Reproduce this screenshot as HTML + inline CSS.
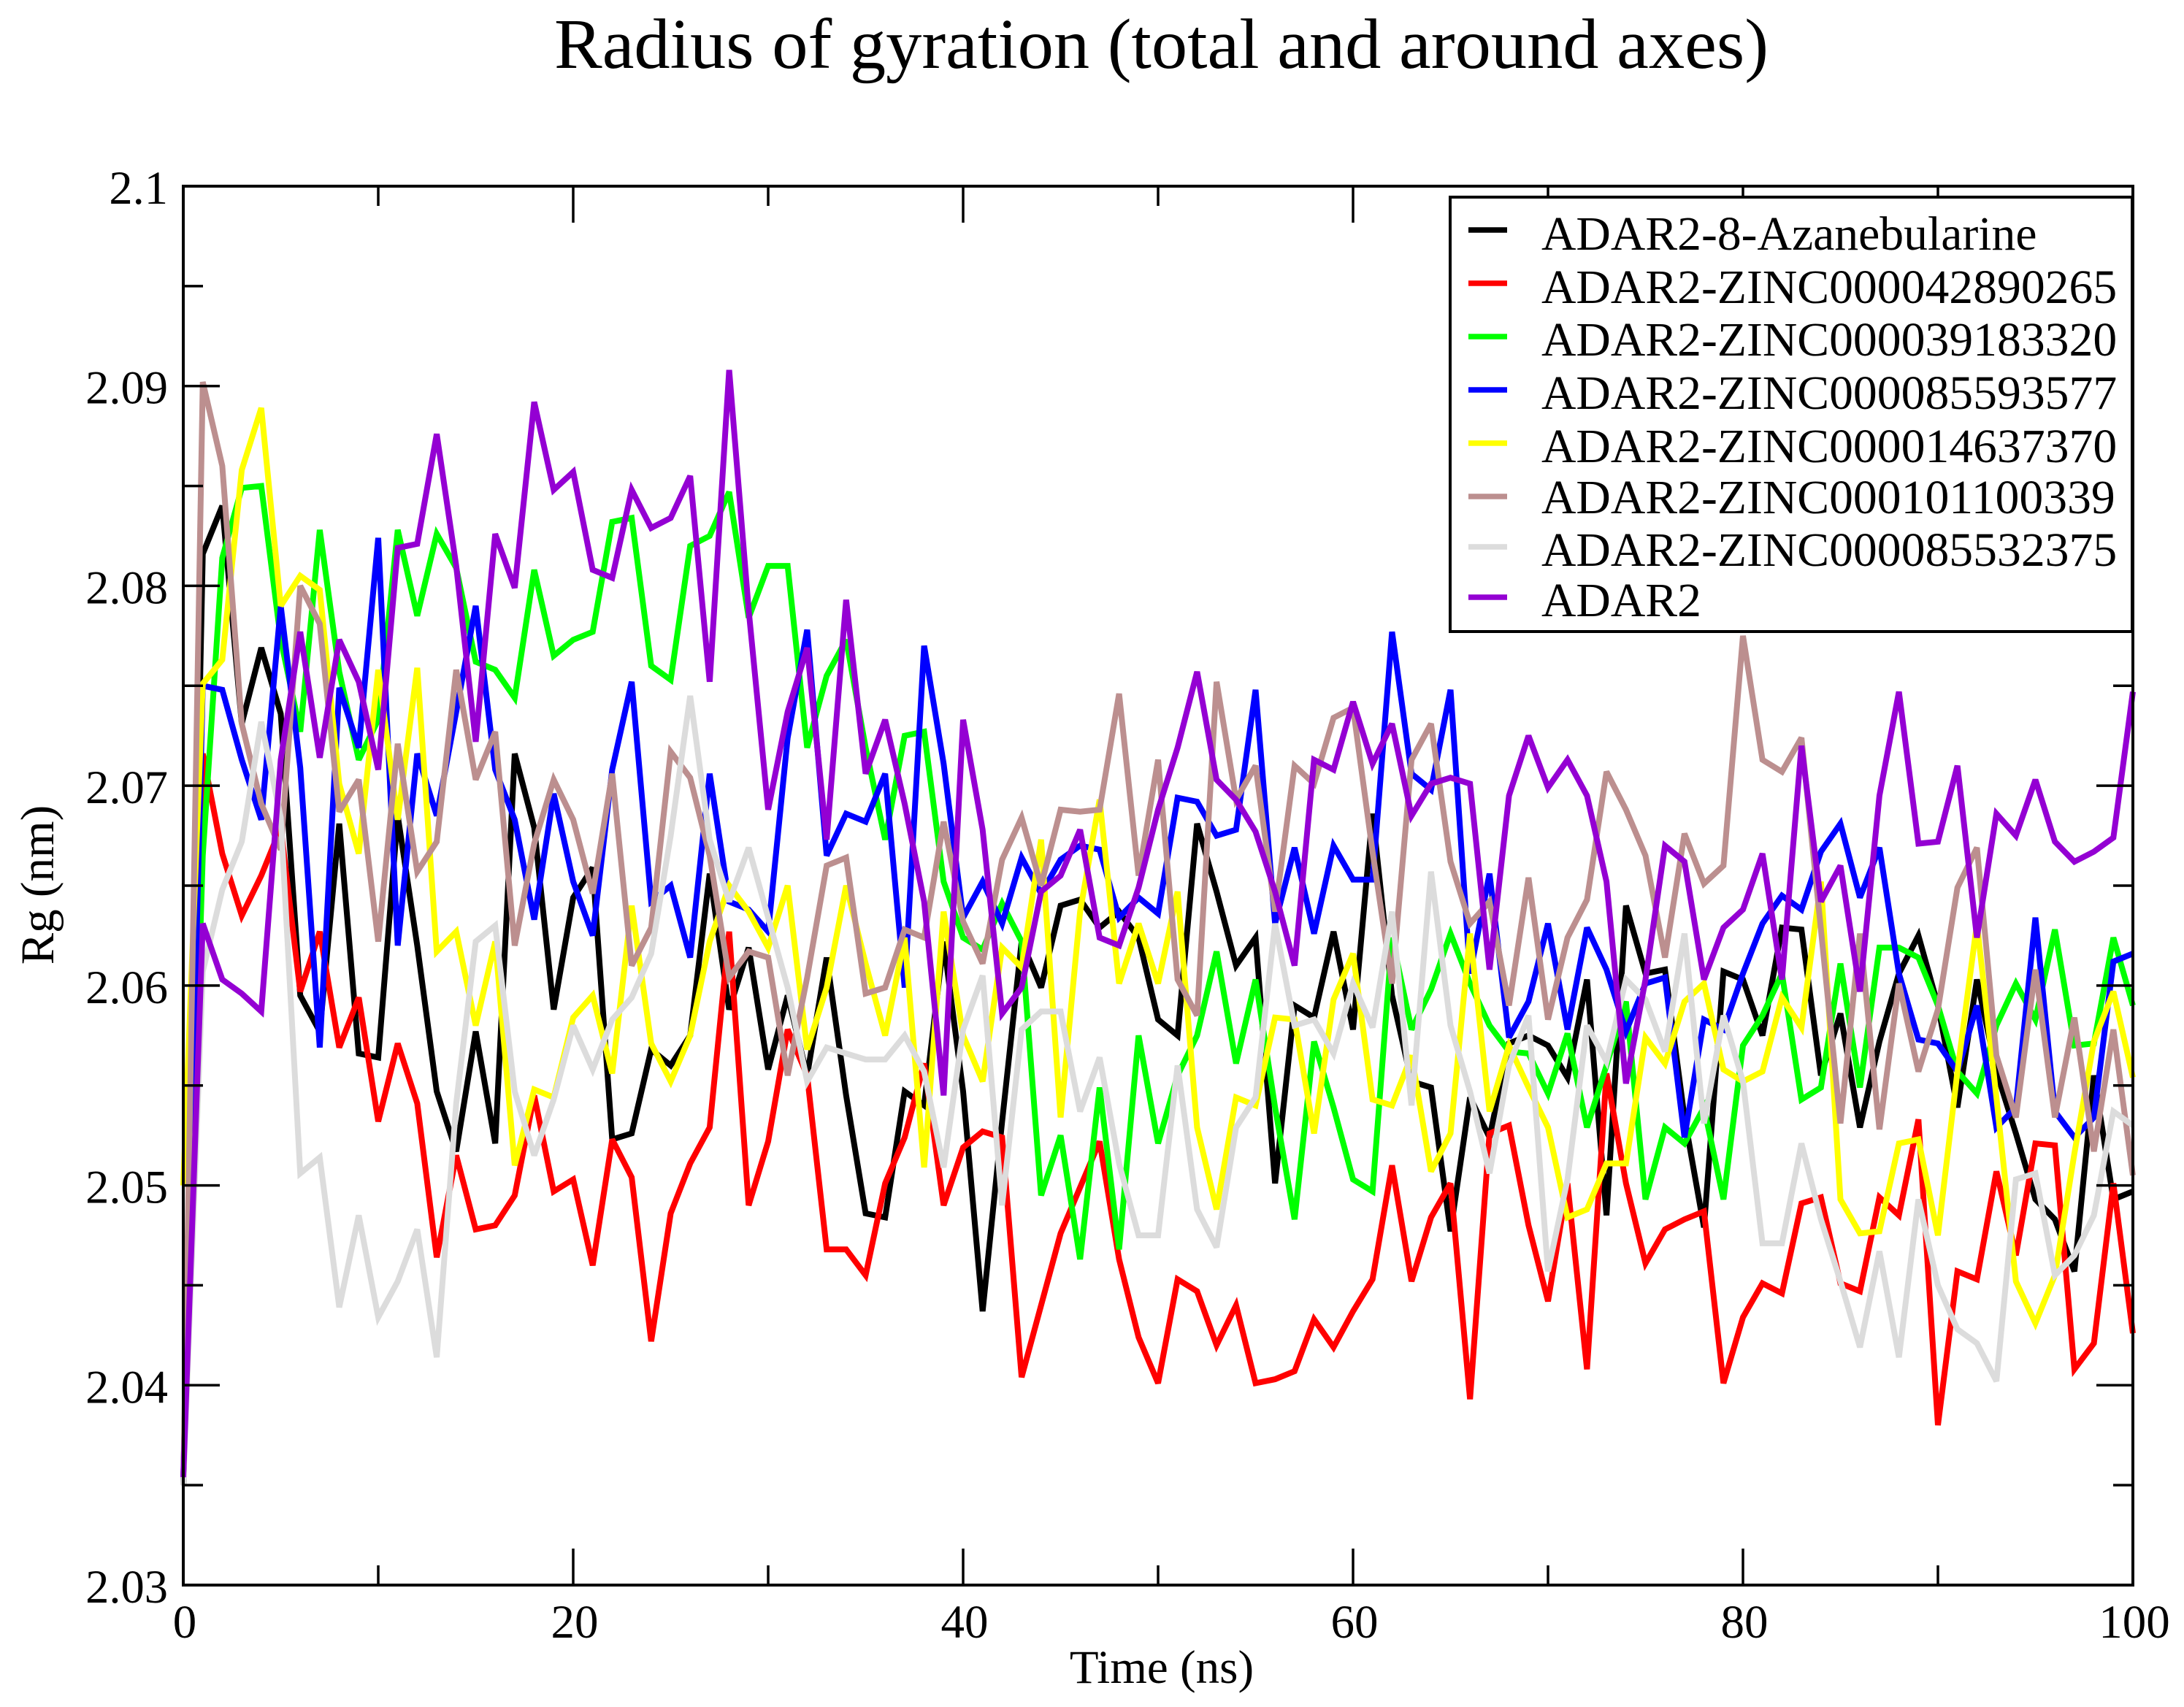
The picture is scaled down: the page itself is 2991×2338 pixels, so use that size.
<!DOCTYPE html>
<html>
<head>
<meta charset="utf-8">
<title>Radius of gyration</title>
<style>
html,body{margin:0;padding:0;background:#fff;}
svg{display:block;}
text{font-family:"Liberation Serif",serif;fill:#000;}
</style>
</head>
<body>
<svg id="chart" xmlns="http://www.w3.org/2000/svg" width="2991" height="2338" viewBox="0 0 2991 2338">
<rect x="0" y="0" width="2991" height="2338" fill="#fff"/>
<text x="759" y="93" font-size="98" textLength="1663" lengthAdjust="spacingAndGlyphs">Radius of gyration (total and around axes)</text>
<text x="1591" y="2305" font-size="65" text-anchor="middle">Time (ns)</text>
<text transform="translate(73,1212) rotate(-90)" font-size="65" text-anchor="middle">Rg (nm)</text>
<g id="series-layer"></g>
<g id="axes-layer"></g>
<g id="legend"></g>
</svg>
<script>
const times = [0,1,2,3,4,5,6,7,8,9,10,11,12,13,14,15,16,17,18,19,20,21,22,23,24,25,26,27,28,29,30,31,32,33,34,35,36,37,38,39,40,41,42,43,44,45,46,47,48,49,50,51,52,53,54,55,56,57,58,59,60,61,62,63,64,65,66,67,68,69,70,71,72,73,74,75,76,77,78,79,80,81,82,83,84,85,86,87,88,89,90,91,92,93,94,95,96,97,98,99,100];
const xTickLabels = [0,20,40,60,80,100];
const xMinorTicks = [10,30,50,70,90];
const yTickLabels = ["2.03","2.04","2.05","2.06","2.07","2.08","2.09","2.1"];
const yMinorTicks = [2.035,2.045,2.055,2.065,2.075,2.085,2.095];
const seriesNames = ["ADAR2-8-Azanebularine","ADAR2-ZINC000042890265","ADAR2-ZINC000039183320","ADAR2-ZINC000085593577","ADAR2-ZINC000014637370","ADAR2-ZINC000101100339","ADAR2-ZINC000085532375","ADAR2"];

const azanebularine = [2.035,2.0816,2.084,2.0731,2.0769,2.0736,2.0595,2.0577,2.0681,2.0566,2.0564,2.0685,2.062,2.0547,2.0517,2.0577,2.0521,2.0716,2.0679,2.0588,2.0644,2.0659,2.0523,2.0526,2.0568,2.056,2.0575,2.0656,2.0588,2.0619,2.0558,2.0595,2.0555,2.0614,2.0545,2.0486,2.0484,2.0547,2.054,2.0622,2.0547,2.0437,2.0532,2.0622,2.0599,2.064,2.0643,2.0629,2.0637,2.0624,2.0583,2.0575,2.0681,2.0647,2.061,2.0624,2.0501,2.059,2.0584,2.0627,2.0578,2.0686,2.0595,2.0552,2.0549,2.0477,2.0544,2.0524,2.0571,2.0575,2.057,2.0554,2.0603,2.0485,2.064,2.0606,2.0608,2.0534,2.0479,2.0607,2.0603,2.0575,2.0629,2.0628,2.0555,2.0586,2.0529,2.0572,2.0606,2.0625,2.059,2.0539,2.0603,2.0557,2.0526,2.0493,2.0483,2.0457,2.0555,2.0493,2.0497];
const zinc42890265 = [2.035,2.0716,2.0666,2.0635,2.0655,2.0679,2.0597,2.0627,2.0569,2.0594,2.0532,2.0571,2.0541,2.0464,2.0515,2.0478,2.048,2.0495,2.0545,2.0497,2.0503,2.046,2.0523,2.0504,2.0422,2.0486,2.0511,2.0529,2.0627,2.049,2.0522,2.0578,2.0555,2.0468,2.0468,2.0455,2.0501,2.0524,2.0561,2.049,2.0519,2.0527,2.0524,2.0404,2.044,2.0476,2.0499,2.0522,2.0463,2.0424,2.0401,2.0453,2.0447,2.042,2.044,2.0401,2.0403,2.0407,2.0433,2.0419,2.0437,2.0453,2.051,2.0452,2.0484,2.0501,2.0393,2.0526,2.053,2.048,2.0442,2.0501,2.0408,2.0556,2.0501,2.0461,2.0478,2.0483,2.0487,2.0401,2.0434,2.0451,2.0446,2.0491,2.0494,2.0451,2.0447,2.0494,2.0485,2.0533,2.038,2.0457,2.0453,2.0507,2.0465,2.0521,2.052,2.0408,2.0421,2.0501,2.0426];
const zinc39183320 = [2.035,2.0665,2.0814,2.0849,2.085,2.0773,2.0727,2.0828,2.0757,2.0713,2.0733,2.0828,2.0785,2.0826,2.0809,2.0762,2.0758,2.0744,2.0808,2.0765,2.0773,2.0777,2.0832,2.0834,2.076,2.0753,2.082,2.0825,2.0847,2.0784,2.081,2.081,2.0719,2.0755,2.0773,2.0719,2.0673,2.0725,2.0727,2.0652,2.0624,2.0618,2.0641,2.0622,2.0495,2.0525,2.0463,2.0549,2.0468,2.0575,2.0521,2.0555,2.0575,2.0617,2.0561,2.0603,2.0539,2.0483,2.0572,2.0539,2.0503,2.0497,2.0624,2.0578,2.0598,2.0626,2.0601,2.058,2.0567,2.0566,2.0546,2.0576,2.0529,2.056,2.0592,2.0493,2.0529,2.0521,2.0539,2.0493,2.057,2.0585,2.0606,2.0543,2.0549,2.0611,2.0549,2.0619,2.0619,2.0614,2.059,2.0557,2.0546,2.058,2.0601,2.0583,2.0628,2.057,2.0571,2.0624,2.059];
const zinc85593577 = [2.035,2.075,2.0748,2.0713,2.0683,2.079,2.0709,2.0569,2.0749,2.0719,2.0824,2.062,2.0716,2.0685,2.0737,2.079,2.0708,2.0683,2.0633,2.0696,2.0652,2.0625,2.0708,2.0752,2.0642,2.065,2.0614,2.0706,2.0642,2.0638,2.0627,2.0724,2.0778,2.0665,2.0686,2.0682,2.0706,2.0599,2.077,2.0711,2.0634,2.0652,2.0631,2.0664,2.0646,2.0663,2.067,2.0668,2.0634,2.0644,2.0636,2.0694,2.0692,2.0675,2.0678,2.0748,2.0631,2.0669,2.0626,2.067,2.0653,2.0653,2.0777,2.0706,2.0698,2.0748,2.0606,2.0656,2.0574,2.0592,2.0631,2.0578,2.0629,2.0608,2.0577,2.0601,2.0604,2.0524,2.0583,2.0578,2.0606,2.0631,2.0645,2.0638,2.0667,2.0681,2.0644,2.0669,2.0606,2.0573,2.0571,2.0557,2.059,2.0529,2.0539,2.0634,2.0537,2.0524,2.0534,2.0612,2.0616];
const zinc14637370 = [2.05,2.0751,2.0763,2.0858,2.0889,2.079,2.0805,2.0798,2.0701,2.0666,2.0758,2.0683,2.0759,2.0617,2.0627,2.058,2.0622,2.051,2.0548,2.0544,2.0584,2.0595,2.0556,2.064,2.0571,2.0552,2.0575,2.0622,2.065,2.0637,2.0619,2.065,2.0568,2.0599,2.065,2.0611,2.0575,2.0624,2.0509,2.0637,2.0575,2.0552,2.0619,2.0609,2.0673,2.0534,2.0637,2.0693,2.0601,2.0631,2.0601,2.0647,2.0529,2.0488,2.0544,2.054,2.0584,2.0583,2.0526,2.0593,2.0616,2.0543,2.054,2.0565,2.0507,2.0526,2.0626,2.0537,2.057,2.0549,2.0529,2.0484,2.0488,2.0511,2.0511,2.0574,2.0561,2.0592,2.0601,2.0558,2.0552,2.0557,2.0594,2.0579,2.0652,2.0493,2.0476,2.0477,2.0521,2.0523,2.0475,2.0557,2.0631,2.0544,2.0452,2.0431,2.0455,2.0516,2.0572,2.0597,2.0554];
const zinc101100339 = [2.035,2.0902,2.086,2.0731,2.0691,2.0668,2.08,2.0781,2.0687,2.0703,2.0622,2.0721,2.0657,2.0672,2.0758,2.0703,2.0727,2.062,2.0671,2.0703,2.0683,2.0646,2.0706,2.061,2.0629,2.0717,2.0704,2.0665,2.0604,2.0617,2.0614,2.0555,2.0604,2.066,2.0664,2.0596,2.0599,2.0628,2.0624,2.0682,2.0632,2.0611,2.0663,2.0684,2.065,2.0688,2.0687,2.0688,2.0746,2.0655,2.0713,2.0603,2.0585,2.0752,2.0693,2.071,2.0637,2.071,2.0701,2.0734,2.0739,2.0667,2.0601,2.0713,2.0731,2.0662,2.0631,2.0642,2.059,2.0654,2.0583,2.0624,2.0643,2.0707,2.0688,2.0665,2.0614,2.0676,2.0651,2.066,2.0775,2.0713,2.0707,2.0724,2.0628,2.0531,2.0626,2.0528,2.0601,2.0557,2.0588,2.0649,2.0669,2.0565,2.0534,2.0608,2.0534,2.0584,2.0517,2.0578,2.0505];
const zinc85532375 = [2.035,2.0607,2.0648,2.0672,2.0732,2.0684,2.0506,2.0514,2.0439,2.0485,2.0434,2.0452,2.0478,2.0414,2.0541,2.0622,2.063,2.0547,2.0515,2.0543,2.058,2.0558,2.0583,2.0594,2.0616,2.0675,2.0745,2.0673,2.0642,2.0669,2.0634,2.0599,2.0552,2.0569,2.0566,2.0563,2.0563,2.0575,2.0557,2.0509,2.0578,2.0605,2.049,2.0578,2.0587,2.0587,2.0537,2.0564,2.0511,2.0475,2.0475,2.056,2.0488,2.0469,2.0529,2.0544,2.0631,2.058,2.0583,2.0566,2.0601,2.0579,2.0637,2.054,2.0657,2.058,2.0547,2.0506,2.056,2.0585,2.0457,2.0503,2.058,2.0562,2.0603,2.0593,2.0567,2.0626,2.0531,2.0585,2.0552,2.0471,2.0471,2.0521,2.0483,2.0452,2.0419,2.0467,2.0414,2.0493,2.045,2.0428,2.0421,2.0402,2.0503,2.0506,2.0455,2.0465,2.0485,2.0537,2.053];
const adar2 = [2.0354,2.0631,2.0603,2.0596,2.0587,2.0713,2.0777,2.0714,2.0773,2.0752,2.0708,2.0819,2.0821,2.0876,2.081,2.0722,2.0826,2.0799,2.0892,2.0848,2.0857,2.0808,2.0804,2.0848,2.0829,2.0834,2.0855,2.0752,2.0908,2.0788,2.0688,2.0737,2.0769,2.0673,2.0793,2.0706,2.0733,2.0691,2.0642,2.0545,2.0733,2.0678,2.0586,2.0599,2.0647,2.0655,2.0678,2.0624,2.062,2.0649,2.0688,2.0719,2.0757,2.0703,2.0693,2.0677,2.0647,2.061,2.0713,2.0708,2.0742,2.0711,2.0731,2.0685,2.0701,2.0704,2.0701,2.0608,2.0695,2.0725,2.0699,2.0713,2.0695,2.0652,2.0551,2.0603,2.067,2.0662,2.0603,2.0629,2.0638,2.0666,2.0603,2.072,2.0642,2.066,2.0597,2.0695,2.0747,2.0671,2.0672,2.071,2.0624,2.0686,2.0675,2.0703,2.0672,2.0662,2.0667,2.0674,2.0747];

const seriesValues = [azanebularine, zinc42890265, zinc39183320, zinc85593577, zinc14637370, zinc101100339, zinc85532375, adar2];
const seriesColors = ["#000000","#ff0000","#00ff00","#0000ff","#ffff00","#bc8f8f","#dcdcdc","#9400d3"];

const NS = "http://www.w3.org/2000/svg";
const plotLeft = 251, plotRight = 2921, plotTop = 255, plotBottom = 2171;
const xMin = 0, xMax = 100, yMin = 2.03, yMax = 2.1;
function xScale(v){ return plotLeft + (v - xMin) / (xMax - xMin) * (plotRight - plotLeft); }
function yScale(v){ return plotBottom - (v - yMin) / (yMax - yMin) * (plotBottom - plotTop); }
function make(tag, attrs){
  const el = document.createElementNS(NS, tag);
  for (const k in attrs) el.setAttribute(k, attrs[k]);
  return el;
}

const seriesLayer = document.getElementById("series-layer");
seriesValues.forEach(function(vals, i){
  const d = vals.map(function(v, j){ return (j ? "L" : "M") + xScale(times[j]).toFixed(1) + " " + yScale(v).toFixed(1); }).join(" ");
  const path = make("path", {d: d, fill: "none", stroke: seriesColors[i], "stroke-width": 8, "stroke-linejoin": "miter", "stroke-miterlimit": 3});
  
  
  seriesLayer.appendChild(path);
});

const axes = document.getElementById("axes-layer");
const frame = make("rect", {x: plotLeft, y: plotTop, width: plotRight - plotLeft, height: plotBottom - plotTop, fill: "none", stroke: "#000", "stroke-width": 4});


axes.appendChild(frame);

function tick(x1, y1, x2, y2){
  const t = make("line", {x1: x1, y1: y1, x2: x2, y2: y2, stroke: "#000", "stroke-width": 3.5});
  
  
  axes.appendChild(t);
}
const majorLen = 50, minorLen = 27;
xTickLabels.forEach(function(v){
  const x = xScale(v);
  tick(x, plotBottom, x, plotBottom - majorLen);
  tick(x, plotTop, x, plotTop + majorLen);
  const label = make("text", {x: x + 2, y: 2243, "font-size": 65, "text-anchor": "middle"});
  label.textContent = String(v);
  
  
  axes.appendChild(label);
});
xMinorTicks.forEach(function(v){
  const x = xScale(v);
  tick(x, plotBottom, x, plotBottom - minorLen);
  tick(x, plotTop, x, plotTop + minorLen);
});
yTickLabels.forEach(function(s){
  const y = yScale(parseFloat(s));
  tick(plotLeft, y, plotLeft + majorLen, y);
  tick(plotRight, y, plotRight - majorLen, y);
  const label = make("text", {x: 230, y: y + 24, "font-size": 64.5, "text-anchor": "end"});
  label.textContent = s;
  
  
  axes.appendChild(label);
});
yMinorTicks.forEach(function(v){
  const y = yScale(v);
  tick(plotLeft, y, plotLeft + minorLen, y);
  tick(plotRight, y, plotRight - minorLen, y);
});

const legend = document.getElementById("legend");
const legendBox = make("rect", {x: 1986, y: 270, width: 934, height: 595, fill: "#fff", stroke: "#000", "stroke-width": 4});


legend.appendChild(legendBox);
const legendHandleY = [315,388,461,534,607,680,749,818];
const legendTextY = [342,415,487,560,633,703,775,844];
seriesNames.forEach(function(name, i){
  const h = make("line", {x1: 2011, x2: 2064, y1: legendHandleY[i], y2: legendHandleY[i], stroke: seriesColors[i], "stroke-width": 7.5});
  
  
  legend.appendChild(h);
  const t = make("text", {x: 2111, y: legendTextY[i], "font-size": 65.7});
  t.textContent = name;
  
  
  legend.appendChild(t);
});
</script>
</body>
</html>
